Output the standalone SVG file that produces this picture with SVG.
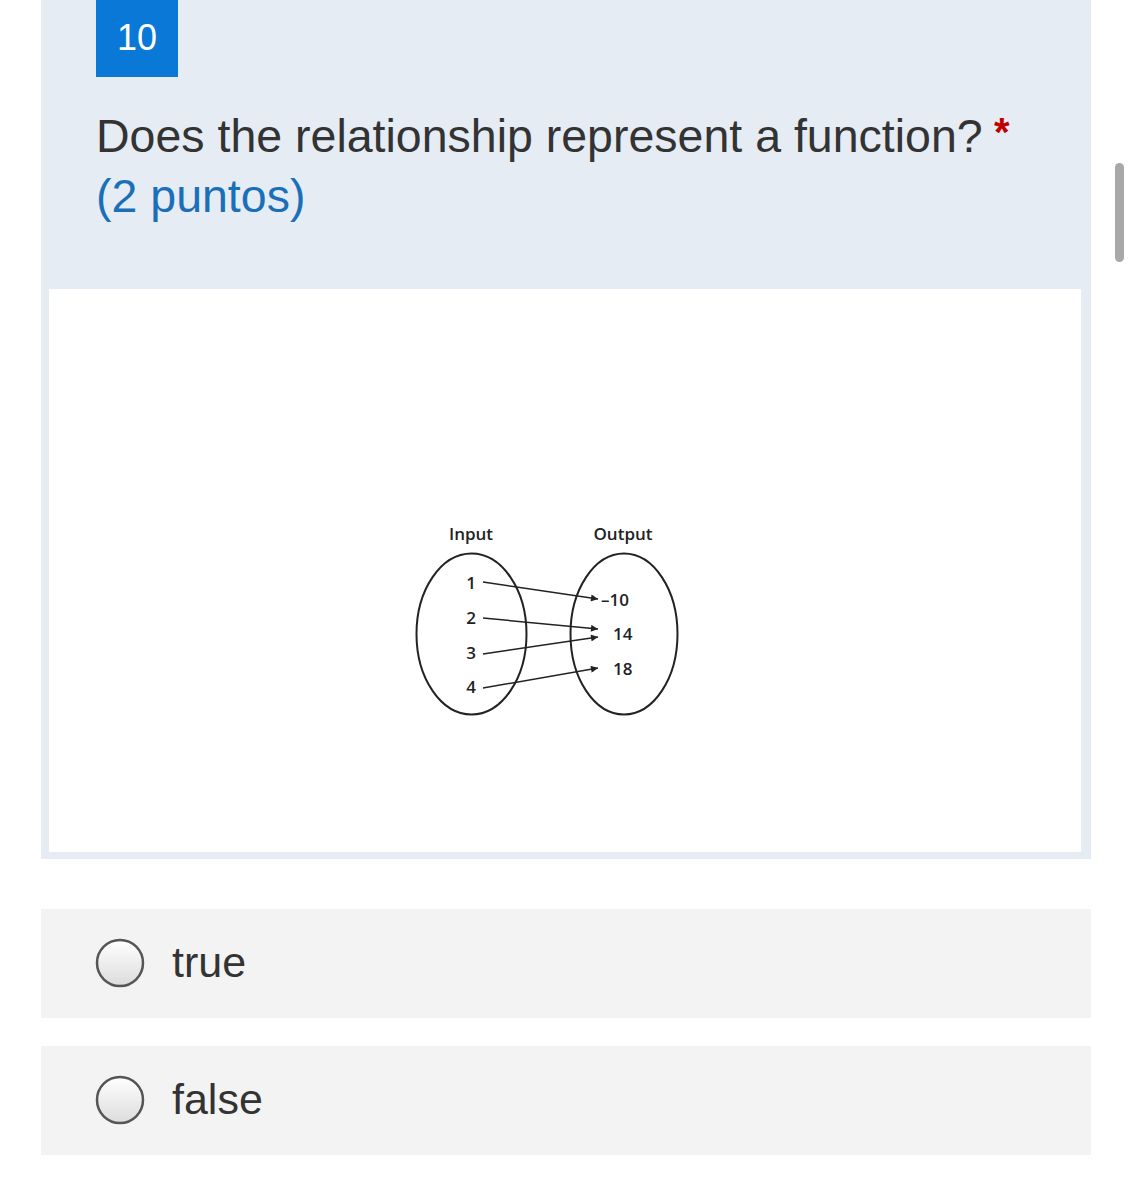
<svg xmlns="http://www.w3.org/2000/svg" width="1133" height="1200" viewBox="0 0 1133 1200">
<defs>
<marker id="ah" viewBox="0 0 10 10" refX="10" refY="5" markerWidth="8" markerHeight="7" markerUnits="userSpaceOnUse" orient="auto">
<path d="M0,0 L10,5 L0,10 z" fill="#222"/>
</marker>
<linearGradient id="rg" x1="0" y1="0" x2="0" y2="1">
<stop offset="0" stop-color="#ffffff"/>
<stop offset="1" stop-color="#dcdcdc"/>
</linearGradient>
<style>
.ui{font-family:"Liberation Sans",Arial,sans-serif}
.dg{font-family:"Open Sans","Noto Sans",sans-serif;fill:#222;font-weight:600}
.num{font-size:17px}
.ell{fill:none;stroke:#222;stroke-width:2}
.ln{stroke:#222;stroke-width:1.5;fill:none;marker-end:url(#ah)}
.opt{fill:#f3f3f3}
.radio{fill:url(#rg);stroke:#555;stroke-width:2.5}
</style>
</defs>
<rect width="1133" height="1200" fill="#ffffff"/>
<g id="panel">
<rect x="41" y="0" width="1050" height="859" fill="#e5ecf3"/>
<rect x="49" y="289" width="1032" height="563" fill="#ffffff"/>
</g>
<g id="number">
<rect x="96" y="0" width="82" height="77" fill="#0a78d6"/>
<text class="ui" x="137" y="50" font-size="36" fill="#ffffff" text-anchor="middle">10</text>
</g>
<g id="question">
<text class="ui" x="96" y="152" font-size="46.5" fill="#333">Does the relationship represent a function?</text>
<text class="ui" x="994" y="146" font-size="40" font-weight="bold" fill="#c00000">*</text>
<text class="ui" x="96" y="212" font-size="46.5" fill="#1a6fb8">(2 puntos)</text>
</g>
<g id="scrollbar">
<rect x="1115" y="163" width="9" height="99" rx="4.5" fill="#a8a8a8"/>
</g>
<g id="input-set">
<ellipse class="ell" cx="471.5" cy="634" rx="55" ry="80.5"/>
<text class="dg" x="471" y="540" font-size="17" text-anchor="middle">Input</text>
<text class="dg num" x="471" y="589" text-anchor="middle">1</text>
<text class="dg num" x="471" y="624" text-anchor="middle">2</text>
<text class="dg num" x="471" y="659" text-anchor="middle">3</text>
<text class="dg num" x="471" y="693" text-anchor="middle">4</text>
</g>
<g id="output-set">
<ellipse class="ell" cx="624" cy="634" rx="53.5" ry="80.5"/>
<text class="dg" x="623" y="540" font-size="17" text-anchor="middle">Output</text>
<text class="dg num" x="601" y="606">–10</text>
<text class="dg num" x="613" y="640">14</text>
<text class="dg num" x="613" y="675">18</text>
</g>
<g id="connectors">
<line class="ln" x1="483" y1="582" x2="598" y2="599"/>
<line class="ln" x1="483" y1="618" x2="598" y2="629"/>
<line class="ln" x1="483" y1="654" x2="598" y2="637"/>
<line class="ln" x1="483" y1="688" x2="598" y2="668"/>
</g>
<g id="option-true">
<rect class="opt" x="41" y="909" width="1050" height="109"/>
<circle class="radio" cx="120" cy="963" r="23"/>
<text class="ui" x="172" y="977" font-size="43" fill="#333">true</text>
</g>
<g id="option-false">
<rect class="opt" x="41" y="1046" width="1050" height="109"/>
<circle class="radio" cx="120" cy="1100" r="23"/>
<text class="ui" x="172" y="1114" font-size="43" fill="#333">false</text>
</g>
</svg>
